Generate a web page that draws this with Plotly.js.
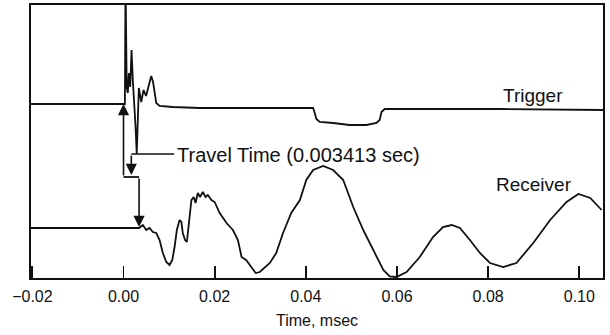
<!DOCTYPE html>
<html>
<head>
<meta charset="utf-8">
<script src="https://cdn.plot.ly/plotly-3.0.1.min.js"></script>
<style>
  html, body { margin: 0; padding: 0; background: #fff; }
  #chart { width: 610px; height: 335px; }
</style>
</head>
<body>
<div id="chart"></div>
<script>
// Time axis in msec, amplitudes in arbitrary display units (traces offset vertically)
const trigTime = [-0.0203, 0.0000, 0.0003, 0.00044, 0.0007, 0.00094, 0.00116, 0.00147, 0.00176, 0.00204,
  0.00235, 0.00264, 0.0029, 0.00336, 0.00389, 0.00439, 0.00494, 0.00608, 0.00648, 0.00718,
  0.00791, 0.0108, 0.0167, 0.0277, 0.0416, 0.04195, 0.04232, 0.04305, 0.046, 0.0496,
  0.0533, 0.0555, 0.0562, 0.0566, 0.0573, 0.0679, 0.0826, 0.1052];
const trigAmp = [174, 174, 174, 300, 190, 185, 205, 191, 228, 198,
  178, 151, 124, 190, 176, 188, 182, 202, 196, 175,
  172, 171, 170, 170, 170, 165, 159, 156, 155, 153,
  153, 155, 158, 166, 169, 169, 169, 168];

const recvTime = [-0.0203, 0.0034, 0.00424, 0.00499, 0.00571, 0.00644, 0.00718, 0.00791, 0.00863, 0.00938,
  0.0101, 0.0107, 0.0112, 0.0117, 0.0123, 0.0127, 0.0130, 0.0135, 0.0139, 0.0143,
  0.0149, 0.0154, 0.0158, 0.0163, 0.0168, 0.0174, 0.0180, 0.0185, 0.0193, 0.0200,
  0.0211, 0.0226, 0.0240, 0.0251, 0.0259, 0.0269, 0.0280, 0.0290, 0.0299, 0.0310,
  0.0321, 0.0335, 0.0350, 0.0368, 0.0387, 0.0401, 0.0416, 0.0438, 0.0460, 0.0482,
  0.0504, 0.0526, 0.0548, 0.0570, 0.0584, 0.0599, 0.0621, 0.0650, 0.0679, 0.0701,
  0.0720, 0.0738, 0.0760, 0.0782, 0.0804, 0.0833, 0.0862, 0.0899, 0.0936, 0.0972,
  0.0998, 0.1024, 0.1049];
const recvAmp = [50, 50, 53, 48, 50, 46, 45, 38, 25, 16,
  13, 18, 31, 48, 58, 56, 45, 38, 36, 51,
  78, 81, 75, 85, 81, 86, 81, 83, 78, 76,
  65, 55, 48, 38, 21, 18, 11, 5, 6, 11,
  15, 25, 45, 65, 78, 98, 108, 112, 108, 98,
  71, 48, 28, 8, 1.5, 1, 6, 21, 41, 51,
  53, 50, 38, 25, 15, 11, 15, 35, 58, 76,
  84, 80, 68];

const tickVals = [-0.02, 0.00, 0.02, 0.04, 0.06, 0.08, 0.10];
const travelTime = 0.003413;      // trigger onset to receiver arrival
const trigBase = 174, recvBase = 50, spanLevel = 101, labelLevel = 122;

const font = 'Liberation Sans, Arial, Helvetica, sans-serif';
const lineStyle = {color: '#111', width: 1.8};

const traces = [
  {x: trigTime, y: trigAmp, mode: 'lines', line: lineStyle, name: 'Trigger', hoverinfo: 'skip'},
  {x: recvTime, y: recvAmp, mode: 'lines', line: lineStyle, name: 'Receiver', hoverinfo: 'skip'}
];

function arrow(x, yFrom, yTo) {
  return {x: x, y: yTo, ax: x, ay: yFrom, xref: 'x', yref: 'y', axref: 'x', ayref: 'y',
    text: '', showarrow: true, arrowhead: 2, arrowsize: 1.4, arrowwidth: 1.6,
    arrowcolor: '#111', standoff: 0, startstandoff: 0};
}

const annotations = [
  arrow(0, spanLevel, trigBase),
  arrow(travelTime, spanLevel, recvBase + 1),
  arrow(travelTime / 2, labelLevel + 2, spanLevel + 2),
  {x: 0.0112, y: labelLevel + 1, xref: 'x', yref: 'y', xanchor: 'left', yanchor: 'middle',
   text: 'Travel Time (' + travelTime + ' sec)', showarrow: false,
   font: {family: font, size: 20, color: '#111'}},
  {x: 0.0898, y: 183, xref: 'x', yref: 'y', xanchor: 'center', yanchor: 'middle',
   text: 'Trigger', showarrow: false, font: {family: font, size: 19, color: '#111'}},
  {x: 0.0900, y: 94, xref: 'x', yref: 'y', xanchor: 'center', yanchor: 'middle',
   text: 'Receiver', showarrow: false, font: {family: font, size: 19, color: '#111'}}
];

const shapes = [
  // span bar between the two arrows
  {type: 'line', xref: 'x', yref: 'y', x0: 0, x1: travelTime, y0: spanLevel, y1: spanLevel,
   line: {color: '#111', width: 1.8}},
  // leader from the label to the span marker
  {type: 'line', xref: 'x', yref: 'y', x0: travelTime / 2, x1: 0.0111, y0: labelLevel + 2, y1: labelLevel + 2,
   line: {color: '#111', width: 1.5}}
];

const layout = {
  width: 610, height: 335,
  margin: {l: 31, r: 7, t: 5, b: 57},
  paper_bgcolor: '#fff', plot_bgcolor: '#fff',
  showlegend: false,
  font: {family: font, color: '#111', size: 16},
  xaxis: {
    range: [-0.0203, 0.1052], tickvals: tickVals, tickformat: '.2f',
    ticks: 'inside', ticklen: 12, tickwidth: 1.8, tickcolor: '#111',
    ticklabelstandoff: 3,
    showline: true, linewidth: 2, linecolor: '#111', mirror: true,
    showgrid: false, zeroline: false,
    tickfont: {family: font, size: 16, color: '#111'},
    title: {text: 'Time, msec', standoff: 11, font: {family: font, size: 16, color: '#111'}}
  },
  yaxis: {
    range: [0, 273], showticklabels: false, ticks: '',
    showline: true, linewidth: 2, linecolor: '#111', mirror: true,
    showgrid: false, zeroline: false
  },
  annotations: annotations,
  shapes: shapes
};

Plotly.newPlot('chart', traces, layout, {staticPlot: true, displayModeBar: false});
</script>
</body>
</html>
